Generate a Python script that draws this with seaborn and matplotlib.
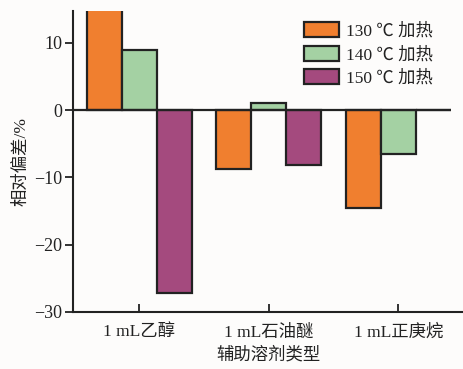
import matplotlib
matplotlib.use("Agg")
import matplotlib.pyplot as plt
import seaborn as sns
import pandas as pd

# Solvent categories and relative deviation (%) per heating temperature
solvents = ["1 mL乙醇", "1 mL石油醚", "1 mL正庚烷"]
series = ["130 ℃ 加热", "140 ℃ 加热", "150 ℃ 加热"]
dev_130 = [15.0, -8.7, -14.6]
dev_140 = [9.0, 1.1, -6.5]
dev_150 = [-27.2, -8.1, 0.0]
colors = ["#F07F2F", "#A4D1A3", "#A44A7E"]
yticks = [10, 0, -10, -20, -30]

df = pd.DataFrame({
    "solvent": solvents * 3,
    "temp": [s for s in series for _ in solvents],
    "value": dev_130 + dev_140 + dev_150,
})

sns.set_theme(style="ticks")
plt.rcParams["font.family"] = ["Liberation Serif", "Noto Sans CJK SC"]
plt.rcParams["axes.unicode_minus"] = True

ink = "#222222"
fig = plt.figure(figsize=(4.63, 3.69), dpi=100, facecolor="#FDFCFB")
ax = fig.add_axes([0.158, 0.155, 0.842, 0.816])
ax.set_facecolor("#FDFCFB")

sns.barplot(data=df, x="solvent", y="value", hue="temp", palette=colors,
            saturation=1, width=0.81, edgecolor=ink, linewidth=1.6, ax=ax,
            order=solvents, hue_order=series)

ax.hlines(0, -0.51, 2.405, color=ink, linewidth=1.6, zorder=3)

ax.set_xlim(-0.51, 2.5)
ax.set_ylim(-30, 14.8)
ax.set_yticks(yticks)
ax.set_yticklabels([str(v).replace("-", "−") for v in yticks])
ax.tick_params(axis="y", direction="out", length=6, width=1.3, labelsize=13,
               colors=ink, pad=2)
ax.tick_params(axis="x", direction="in", length=6, width=1.3, labelsize=12.5,
               colors=ink, pad=9)
for s in ["top", "right"]:
    ax.spines[s].set_visible(False)
for s in ["left", "bottom"]:
    ax.spines[s].set_linewidth(1.5)
    ax.spines[s].set_color(ink)

ax.set_xlabel("辅助溶剂类型", fontsize=12.5, color=ink, labelpad=4)
ax.set_ylabel("相对偏差/%", fontsize=12.5, color=ink, labelpad=3)

leg = ax.legend(loc="upper left", bbox_to_anchor=(0.575, 0.985), frameon=False,
                fontsize=12.5, handlelength=2.0, handleheight=0.95,
                labelspacing=0.35, handletextpad=0.4, borderaxespad=0)
for t in leg.get_texts():
    t.set_color(ink)

fig.savefig("out.png", dpi=100, facecolor=fig.get_facecolor())
